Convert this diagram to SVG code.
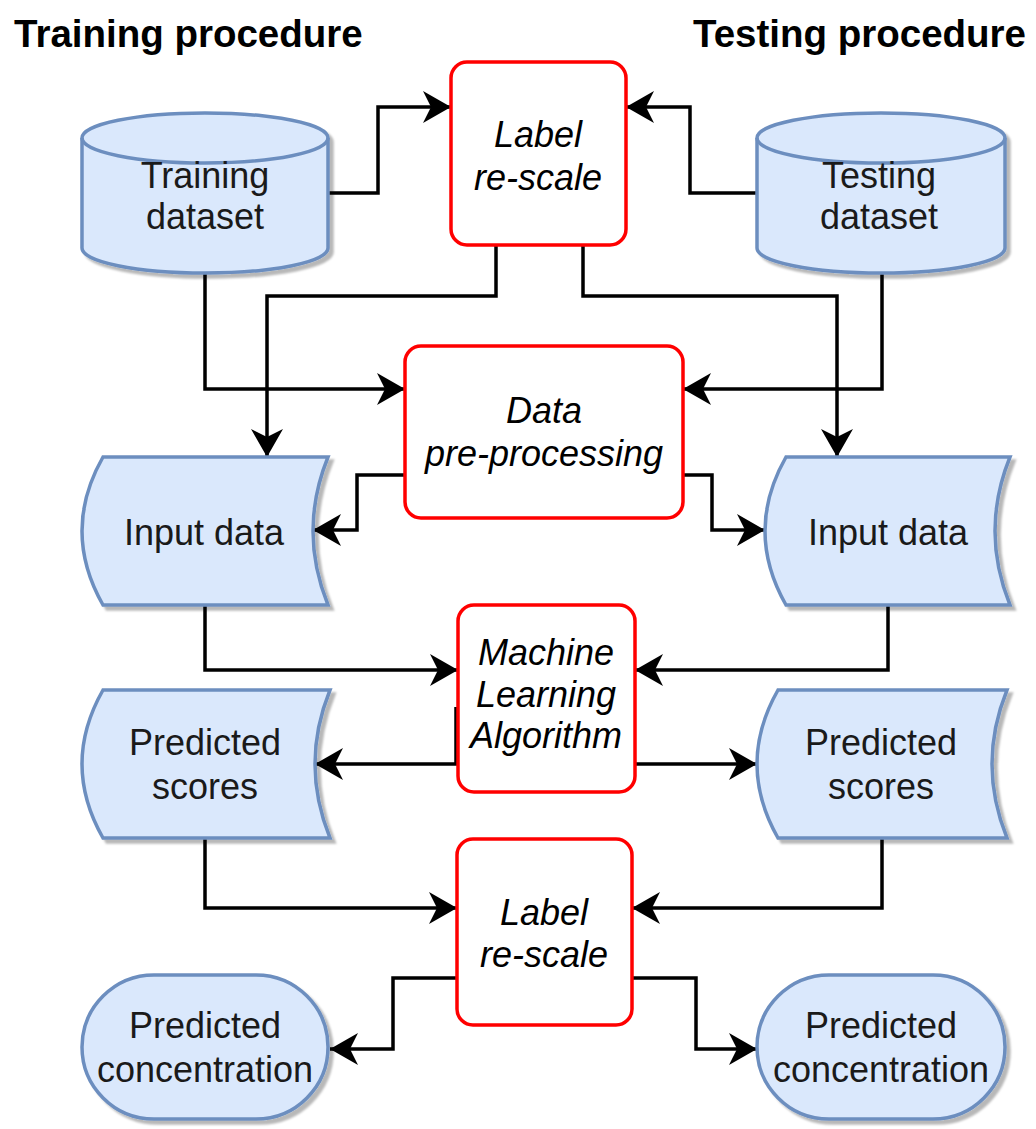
<svg xmlns="http://www.w3.org/2000/svg" width="1036" height="1129" viewBox="0 0 1036 1129">
<defs>
<style>
.title{font-family:"Liberation Sans",Arial,sans-serif;font-weight:bold;font-size:38.5px;fill:#000}
.lbl{font-family:"Liberation Sans",Arial,sans-serif;font-size:36px;fill:#1a1a1a;text-anchor:middle}
.it{font-style:italic;fill:#000}
.blue{fill:#dae8fc;stroke:#6c8ebf;stroke-width:3.5;filter:url(#sh)}
.red{fill:#fff;stroke:#ff0000;stroke-width:3.5}
.edge{fill:none;stroke:#000;stroke-width:3.5;marker-end:url(#arr)}
</style>
<filter id="sh" x="-10%" y="-10%" width="125%" height="125%">
<feDropShadow dx="4" dy="4" stdDeviation="1" flood-color="#000" flood-opacity="0.28"/>
</filter>
<marker id="arr" markerUnits="userSpaceOnUse" markerWidth="30" markerHeight="34" refX="28" refY="16" orient="auto" overflow="visible">
<path d="M0,0 L28,16 L0,32 L8,16 Z" fill="#000"/>
</marker>
</defs>
<rect width="1036" height="1129" fill="#fff"/>
<text class="title" x="14" y="47">Training procedure</text>
<text class="title" x="693" y="47">Testing procedure</text>

<g id="connectors">
<path class="edge" d="M328,193 H378 V107 H451"/>
<path class="edge" d="M757,193 H690 V107 H626"/>
<path class="edge" d="M496,245 V296 H267 V457"/>
<path class="edge" d="M583,245 V296 H837 V457"/>
<path class="edge" d="M205,273 V389 H405"/>
<path class="edge" d="M882,273 V389 H683"/>
<path class="edge" d="M405,475 H357 V530 H313"/>
<path class="edge" d="M683,475 H712 V530 H765"/>
<path class="edge" d="M205,605 V670 H458"/>
<path class="edge" d="M888,605 V670 H635"/>
<path class="edge" d="M456,707 V764 H315"/>
<path class="edge" d="M635,764 H757"/>
<path class="edge" d="M205,838 V908 H457"/>
<path class="edge" d="M882,838 V908 H632"/>
<path class="edge" d="M457,978 H393 V1049 H330"/>
<path class="edge" d="M632,978 H696 V1049 H757"/>
</g>

<g id="training-dataset">
<path class="blue" d="M82,138 A123,25 0 0 1 328,138 L328,248 A123,25 0 0 1 82,248 Z"/>
<path d="M82,138 A123,25 0 0 0 328,138" fill="none" stroke="#6c8ebf" stroke-width="3.5"/>
<text class="lbl" x="205" y="188">Training</text>
<text class="lbl" x="205" y="229">dataset</text>
</g>

<g id="testing-dataset">
<path class="blue" d="M757,138 A124,25 0 0 1 1005,138 L1005,248 A124,25 0 0 1 757,248 Z"/>
<path d="M757,138 A124,25 0 0 0 1005,138" fill="none" stroke="#6c8ebf" stroke-width="3.5"/>
<text class="lbl" x="879" y="188">Testing</text>
<text class="lbl" x="879" y="229">dataset</text>
</g>

<g id="label-rescale-top">
<rect class="red" x="451" y="62" width="175" height="183" rx="16"/>
<text class="lbl it" x="538" y="147">Label</text>
<text class="lbl it" x="538" y="190">re-scale</text>
</g>

<g id="data-preprocessing">
<rect class="red" x="405" y="346" width="278" height="172" rx="16"/>
<text class="lbl it" x="544" y="423">Data</text>
<text class="lbl it" x="544" y="466">pre-processing</text>
</g>

<g id="input-data-train">
<path class="blue" d="M103,457 L328,457 Q298,531 328,605 L103,605 Q61,531 103,457 Z"/>
<text class="lbl" x="204" y="545">Input data</text>
</g>

<g id="input-data-test">
<path class="blue" d="M786,457 L1010,457 Q980,531 1010,605 L786,605 Q744,531 786,457 Z"/>
<text class="lbl" x="888" y="545">Input data</text>
</g>

<g id="ml-algorithm">
<rect class="red" x="458" y="605" width="177" height="187" rx="16"/>
<text class="lbl it" x="546" y="665">Machine</text>
<text class="lbl it" x="546" y="707">Learning</text>
<text class="lbl it" x="546" y="748">Algorithm</text>
</g>

<g id="predicted-scores-train">
<path class="blue" d="M103,690 L330,690 Q300,764 330,838 L103,838 Q61,764 103,690 Z"/>
<text class="lbl" x="205" y="755">Predicted</text>
<text class="lbl" x="205" y="799">scores</text>
</g>

<g id="predicted-scores-test">
<path class="blue" d="M778,690 L1007,690 Q977,764 1007,838 L778,838 Q736,764 778,690 Z"/>
<text class="lbl" x="881" y="755">Predicted</text>
<text class="lbl" x="881" y="799">scores</text>
</g>

<g id="label-rescale-bottom">
<rect class="red" x="457" y="839" width="175" height="186" rx="16"/>
<text class="lbl it" x="544" y="925">Label</text>
<text class="lbl it" x="544" y="967">re-scale</text>
</g>

<g id="predicted-concentration-train">
<rect class="blue" x="82" y="975" width="246" height="144" rx="72" ry="72"/>
<text class="lbl" x="205" y="1038">Predicted</text>
<text class="lbl" x="205" y="1082">concentration</text>
</g>

<g id="predicted-concentration-test">
<rect class="blue" x="757" y="975" width="248" height="144" rx="72" ry="72"/>
<text class="lbl" x="881" y="1038">Predicted</text>
<text class="lbl" x="881" y="1082">concentration</text>
</g>
</svg>
